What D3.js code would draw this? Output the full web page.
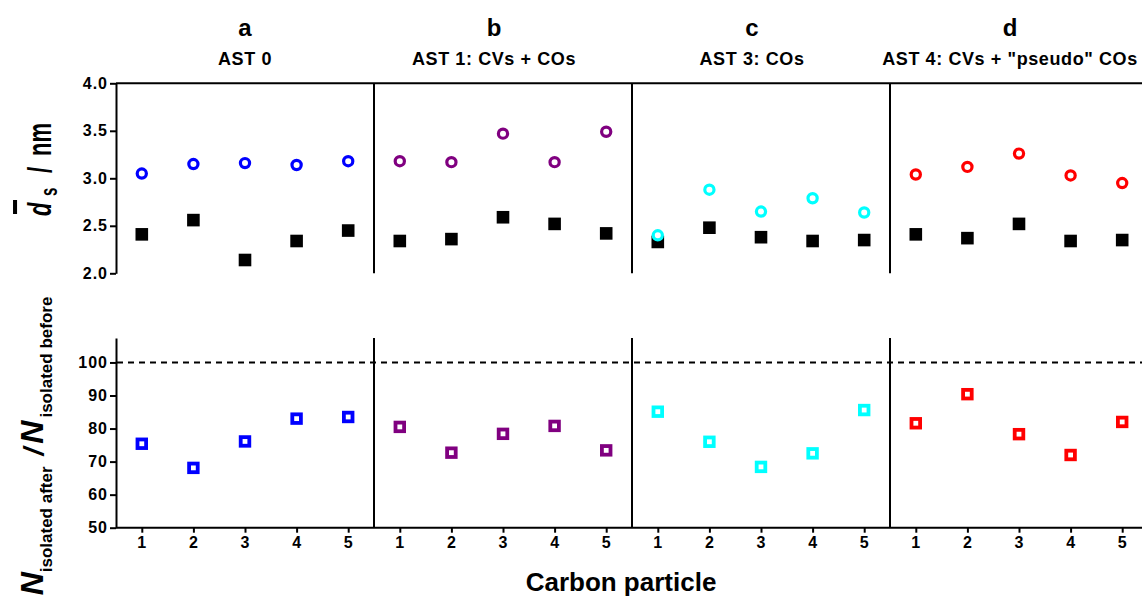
<!DOCTYPE html>
<meta charset="utf-8">
<script src="https://d3js.org/d3.v7.min.js"></script>
<style>
  body { margin: 0; background: #fff; font-family: "Liberation Sans", Arial, sans-serif; }
  text { font-weight: bold; fill: #000; }
</style>
<div id="chart"></div>
<script>
// panels and their data
var panelLetters = ["a", "b", "c", "d"];
var panelTitles = ["AST 0", "AST 1: CVs + COs", "AST 3: COs", "AST 4: CVs + \"pseudo\" COs"];
var panelColors = ["#0000ff", "#800080", "#00ffff", "#ff0000"];
var particles = [1, 2, 3, 4, 5];

// mean particle size before (black squares) and after (open circles)
var sizeBefore = [
  [2.41, 2.56, 2.14, 2.34, 2.45],
  [2.34, 2.36, 2.59, 2.52, 2.42],
  [2.33, 2.48, 2.38, 2.34, 2.35],
  [2.41, 2.37, 2.52, 2.34, 2.35]
];
var sizeAfter = [
  [3.05, 3.15, 3.16, 3.14, 3.18],
  [3.18, 3.17, 3.47, 3.17, 3.49],
  [2.40, 2.88, 2.65, 2.79, 2.64],
  [3.04, 3.12, 3.26, 3.03, 2.95]
];
// N isolated after / N isolated before (%)
var isolatedRatio = [
  [75.4, 68.1, 76.1, 83.0, 83.5],
  [80.5, 72.7, 78.4, 80.8, 73.4],
  [85.1, 76.0, 68.4, 72.5, 85.6],
  [81.6, 90.4, 78.3, 72.0, 82.0]
];
var topTicks = [2.0, 2.5, 3.0, 3.5, 4.0];
var bottomTicks = [50, 60, 70, 80, 90, 100];
var refLine = 100;

var W = 1142, H = 596;
var svg = d3.select("#chart").append("svg")
  .attr("width", W).attr("height", H);

var panelX = d3.scaleBand().domain(panelLetters).range([116, 1148]).padding(0);
var yTop = d3.scaleLinear().domain([2, 4]).range([273.3, 83.3]);
var yBot = d3.scaleLinear().domain([50, 107.4]).range([527.7, 338]);

function xFor(i) {
  var x0 = panelX(panelLetters[i]);
  return d3.scaleLinear().domain([0.5, 5.5]).range([x0, x0 + panelX.bandwidth()]);
}

// ---- frame lines
var frame = svg.append("g").attr("stroke", "#000").attr("stroke-width", 2);
frame.append("line").attr("x1", 116).attr("x2", W)
  .attr("y1", yTop(4)).attr("y2", yTop(4));
frame.append("line").attr("x1", 116).attr("x2", W)
  .attr("y1", yBot(50)).attr("y2", yBot(50));
panelLetters.slice(1).forEach(function(p) {
  var x = panelX(p);
  frame.append("line").attr("x1", x).attr("x2", x).attr("y1", yTop(4)).attr("y2", yTop(2));
  frame.append("line").attr("x1", x).attr("x2", x).attr("y1", yBot.range()[1]).attr("y2", yBot(50));
});

// dashed reference line
svg.append("line")
  .attr("x1", 117).attr("x2", W)
  .attr("y1", yBot(refLine)).attr("y2", yBot(refLine))
  .attr("stroke", "#000").attr("stroke-width", 2)
  .attr("stroke-dasharray", "6,5");

// ---- left axes
function styleAxis(g) {
  g.selectAll("path, line").attr("stroke", "#000").attr("stroke-width", 2);
  g.selectAll("text").style("font-size", "16px").style("font-weight", "bold")
    .style("letter-spacing", "1px").attr("fill", "#000")
    .style("font-family", "'Liberation Sans', Arial, sans-serif");
}
svg.append("g").attr("transform", "translate(116,0)")
  .call(d3.axisLeft(yTop).tickValues(topTicks).tickFormat(d3.format(".1f"))
    .tickSize(6).tickSizeOuter(0).tickPadding(2))
  .call(styleAxis);
svg.append("g").attr("transform", "translate(116,0)")
  .call(d3.axisLeft(yBot).tickValues(bottomTicks).tickFormat(d3.format("d"))
    .tickSize(6).tickSizeOuter(0).tickPadding(2))
  .call(styleAxis);

// ---- panels
panelLetters.forEach(function(p, i) {
  var x = xFor(i);
  var cx = panelX(p) + panelX.bandwidth() / 2 - (i > 0 ? 9 : 0);

  svg.append("text").attr("x", cx).attr("y", 35.5)
    .attr("text-anchor", "middle").style("font-size", "24px").text(p);
  svg.append("text").attr("x", cx).attr("y", 65)
    .attr("text-anchor", "middle").style("font-size", "18px")
    .style("letter-spacing", "0.6px").text(panelTitles[i]);

  // bottom x axis (ticks + labels only, the long base line is drawn above)
  var ax = svg.append("g").attr("transform", "translate(0," + yBot(50) + ")")
    .call(d3.axisBottom(x).tickValues(particles).tickFormat(d3.format("d"))
      .tickSize(5).tickSizeOuter(0).tickPadding(4));
  ax.select(".domain").remove();
  ax.call(styleAxis);

  var g = svg.append("g");
  g.selectAll("rect.before").data(sizeBefore[i]).enter().append("rect")
    .attr("x", function(d, j) { return x(particles[j]) - 6.3; })
    .attr("y", function(d) { return yTop(d) - 6.3; })
    .attr("width", 12.6).attr("height", 12.6).attr("fill", "#000");
  g.selectAll("circle").data(sizeAfter[i]).enter().append("circle")
    .attr("cx", function(d, j) { return x(particles[j]); })
    .attr("cy", function(d) { return yTop(d); })
    .attr("r", 4.6).attr("fill", "#fff")
    .attr("stroke", panelColors[i]).attr("stroke-width", 3.2);
  g.selectAll("rect.ratio").data(isolatedRatio[i]).enter().append("rect")
    .attr("x", function(d, j) { return x(particles[j]) - 4.3; })
    .attr("y", function(d) { return yBot(d) - 4.3; })
    .attr("width", 8.6).attr("height", 8.6).attr("fill", "#fff")
    .attr("stroke", panelColors[i]).attr("stroke-width", 3.8);
});

// ---- axis titles
svg.append("text").attr("x", 621).attr("y", 591)
  .attr("text-anchor", "middle").style("font-size", "26px").text("Carbon particle");

// top y title: d-bar_s / nm (a little stretched across, like the figure)
var ty = svg.append("g").attr("transform", "translate(51,217) rotate(-90) scale(1,1.55)");
var tt = ty.append("text").style("font-size", "22px");
tt.append("tspan").attr("x", 1).style("font-style", "italic").text("d");
tt.append("tspan").attr("x", 21).attr("dy", 4).style("font-size", "15px").text("s");
tt.append("tspan").attr("x", 44).attr("dy", -4).text("/");
tt.append("tspan").attr("x", 61).text("nm");
ty.append("rect").attr("x", 3).attr("y", -24.5).attr("width", 14).attr("height", 2.6).attr("fill", "#000");

// bottom y title
var by = svg.append("text")
  .attr("transform", "translate(43,446) rotate(-90)")
  .attr("text-anchor", "middle");
by.append("tspan").style("font-size", "32px").style("font-style", "italic").text("N");
by.append("tspan").attr("dy", 9).style("font-size", "17px").text("isolated after");
by.append("tspan").attr("dy", -9).attr("dx", 11).style("font-size", "28px").style("font-style", "italic").text("/");
by.append("tspan").attr("dx", 4).style("font-size", "32px").style("font-style", "italic").text("N");
by.append("tspan").attr("dy", 9).attr("dx", 3).style("font-size", "17px").text("isolated before");
</script>
